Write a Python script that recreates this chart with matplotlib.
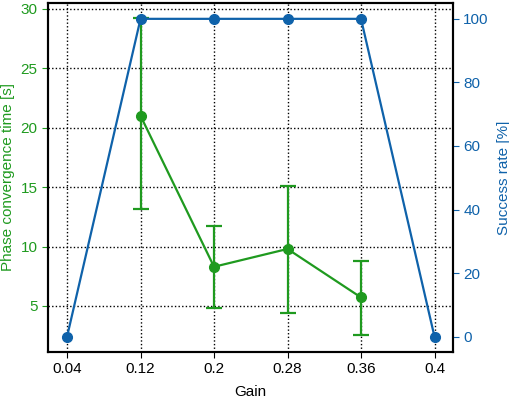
import matplotlib
matplotlib.use("Agg")
import matplotlib.pyplot as plt
import numpy as np

plt.rcParams['font.family'] = ['Liberation Sans', 'DejaVu Sans']

gains = ['0.04', '0.12', '0.2', '0.28', '0.36', '0.4']
conv_gains_idx = [1, 2, 3, 4]
conv_time = [21.0, 8.3, 9.8, 5.72]
conv_err_low = [7.8, 3.5, 5.35, 3.2]
conv_err_high = [8.2, 3.45, 5.3, 3.1]
success = [0, 100, 100, 100, 100, 0]

green = '#1f9a1f'
blue = '#0f62aa'
fs = 11

fig = plt.figure(figsize=(5.10, 3.98), dpi=100)
ax1 = fig.add_axes([0.094, 0.1156, 0.794, 0.877])
x = np.arange(len(gains))

ax1.errorbar(conv_gains_idx, conv_time, yerr=[conv_err_low, conv_err_high], color=green,
             marker='o', markersize=7, linewidth=1.6, capsize=6, capthick=1.6,
             elinewidth=1.6, zorder=3)
ax1.set_xlim(-0.26, 5.25)
ax1.set_ylim(1.13, 30.5)
ax1.set_yticks([5, 10, 15, 20, 25, 30])
ax1.set_xticks(x)
ax1.set_xticklabels(gains)
ax1.grid(True, color='black', linestyle=(0, (1, 1.6)), linewidth=1.0)
ax1.set_axisbelow(True)
ax1.tick_params(axis='y', colors=green, labelsize=fs, direction='out', length=4)
ax1.tick_params(axis='x', colors='black', labelsize=fs, direction='out', length=4)
ax1.set_ylabel('Phase convergence time [s]', color=green, fontsize=fs, labelpad=4)
ax1.set_xlabel('Gain', fontsize=fs, labelpad=6)
for s in ax1.spines.values():
    s.set_linewidth(1.5)
    s.set_color('black')

ax2 = ax1.twinx()
ax2.plot(x, success, color=blue, marker='o', markersize=7, linewidth=1.6, zorder=4)
ax2.set_ylim(-4.8, 105)
ax2.set_yticks([0, 20, 40, 60, 80, 100])
ax2.tick_params(axis='y', colors=blue, labelsize=fs, direction='out', length=4)
ax2.set_ylabel('Success rate [%]', color=blue, fontsize=fs, labelpad=6)
for s in ax2.spines.values():
    s.set_linewidth(1.5)
    s.set_color('black')

fig.savefig('out.png', dpi=100)
